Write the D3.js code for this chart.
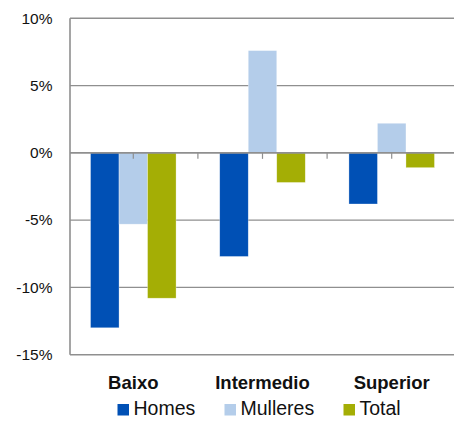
<!DOCTYPE html>
<html>
<head>
<meta charset="utf-8">
<script src="https://cdn.jsdelivr.net/npm/d3@7"></script>
<style>
  body { margin: 0; background: #fff; }
  svg { display: block; font-family: "Liberation Sans", Arial, sans-serif; }
</style>
</head>
<body>
<div id="chart"></div>
<script>
// Chart data (percent change)
const categories = ['Baixo', 'Intermedio', 'Superior'];
const seriesNames = ['Homes', 'Mulleres', 'Total'];
const homesValues = [-13.0, -7.7, -3.8];
const mulleresValues = [-5.3, 7.6, 2.2];
const totalValues = [-10.8, -2.2, -1.1];
const yTicks = [10, 5, 0, -5, -10, -15];
const colors = ['#0050b5', '#b4cdea', '#a4ae05'];

const width = 454;
const height = 421;

const svg = d3.select('#chart')
    .append('svg')
    .attr('width', width)
    .attr('height', height);

// Scales
const yScale = d3.scaleLinear()
    .domain([-15, 10])
    .range([354.7, 18.3]);

const xScale = d3.scaleBand()
    .domain(categories)
    .range([68.7, 456.3])
    .paddingInner(0.338)
    .paddingOuter(0.169);

const xInner = d3.scaleBand()
    .domain(seriesNames)
    .range([0, xScale.bandwidth()]);

const plotLeft = 70;
const plotRight = 454;

// Gridlines
svg.append('g')
    .selectAll('line')
    .data(yTicks.filter(d => d !== 0))
    .join('line')
    .attr('x1', plotLeft)
    .attr('x2', plotRight)
    .attr('y1', d => yScale(d))
    .attr('y2', d => yScale(d))
    .style('stroke', '#8f8f8f')
    .style('stroke-width', '1.4px');

// Y tick labels
svg.append('g')
    .selectAll('text')
    .data(yTicks)
    .join('text')
    .attr('x', 52.5)
    .attr('y', d => yScale(d) + 5.3)
    .attr('text-anchor', 'end')
    .style('font-size', '15.5px')
    .style('fill', '#111')
    .text(d => `${d}%`);

// Bars
const rows = categories.map((c, i) => ({
    category: c,
    values: [homesValues[i], mulleresValues[i], totalValues[i]]
}));

const groups = svg.append('g')
    .selectAll('g')
    .data(rows)
    .join('g')
    .attr('transform', d => `translate(${xScale(d.category)},0)`);

groups.selectAll('rect')
    .data(d => d.values.map((v, j) => ({ name: seriesNames[j], value: v, color: colors[j] })))
    .join('rect')
    .attr('x', d => xInner(d.name))
    .attr('width', xInner.bandwidth())
    .attr('y', d => yScale(Math.max(0, d.value)))
    .attr('height', d => Math.abs(yScale(d.value) - yScale(0)))
    .attr('fill', d => d.color)
    .attr('stroke', '#ffffff')
    .attr('stroke-opacity', 0.5)
    .attr('stroke-width', 0.6);

// Y axis line
svg.append('line')
    .attr('x1', plotLeft)
    .attr('x2', plotLeft)
    .attr('y1', yScale(10))
    .attr('y2', yScale(-15))
    .style('stroke', '#8f8f8f')
    .style('stroke-width', '1.6px');

// Zero line with tick marks (category centres and boundaries)
svg.append('line')
    .attr('x1', plotLeft)
    .attr('x2', plotRight)
    .attr('y1', yScale(0))
    .attr('y2', yScale(0))
    .style('stroke', '#8f8f8f')
    .style('stroke-width', '1.6px');

const step = xScale.step();
const tickXs = [];
categories.forEach((c, i) => {
    const centre = xScale(c) + xScale.bandwidth() / 2;
    tickXs.push(centre);
    if (i < categories.length - 1) tickXs.push(centre + step / 2);
});

svg.append('g')
    .selectAll('line')
    .data(tickXs)
    .join('line')
    .attr('x1', d => d)
    .attr('x2', d => d)
    .attr('y1', yScale(0))
    .attr('y2', yScale(0) + 6)
    .style('stroke', '#8f8f8f')
    .style('stroke-width', '1.2px');

// Category labels
svg.append('g')
    .selectAll('text')
    .data(categories)
    .join('text')
    .attr('x', d => xScale(d) + xScale.bandwidth() / 2)
    .attr('y', 389)
    .attr('text-anchor', 'middle')
    .style('font-size', '18.5px')
    .style('font-weight', 'bold')
    .style('fill', '#111')
    .text(d => d);

// Legend
const legendX = [117.5, 224.5, 343.5];
const legend = svg.append('g')
    .selectAll('g')
    .data(seriesNames)
    .join('g')
    .attr('transform', (d, i) => `translate(${legendX[i]},404)`);

legend.append('rect')
    .attr('width', 11.5)
    .attr('height', 11.5)
    .attr('fill', (d, i) => colors[i]);

legend.append('text')
    .attr('x', 16)
    .attr('y', 11.2)
    .style('font-size', '19.5px')
    .style('fill', '#111')
    .text(d => d);
</script>
</body>
</html>
